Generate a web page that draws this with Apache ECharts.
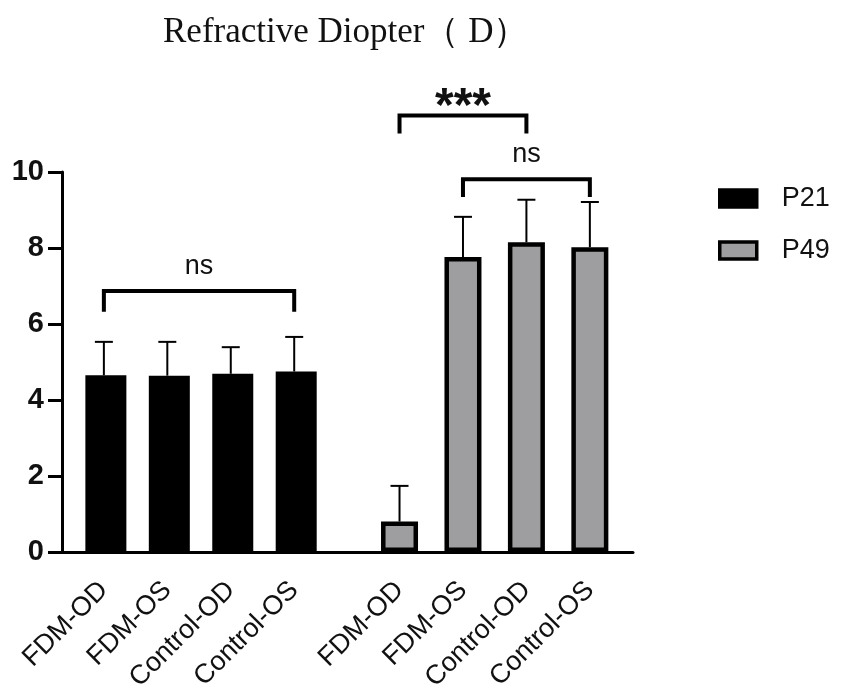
<!DOCTYPE html>
<html>
<head>
<meta charset="utf-8">
<script src="https://cdn.jsdelivr.net/npm/echarts@6/dist/echarts.min.js"></script>
<style>
  html, body { margin: 0; padding: 0; background: #fff; }
  #chart { width: 851px; height: 699px; }
</style>
</head>
<body>
<div id="chart"></div>
<script>
// groups and values
const categories = ['FDM-OD', 'FDM-OS', 'Control-OD', 'Control-OS'];
const p21Means = [4.65, 4.64, 4.69, 4.75];
const p21Errors = [0.88, 0.89, 0.70, 0.91];
const p49Means = [0.80, 7.76, 8.15, 8.02];
const p49Errors = [0.94, 1.06, 1.12, 1.19];
const yTicks = [0, 2, 4, 6, 8, 10];

// significance brackets: group, first bar, last bar, height, drop, text
const brackets = [
  ['P21', 0, 3, 6.87, 0.55, 'ns'],
  ['P49', 0, 2, 11.49, 0.48, '***'],
  ['P49', 1, 3, 9.81, 0.47, 'ns']
];

const GRAY = '#9e9ea0';
const FONT = '"Liberation Sans", Arial, sans-serif';
// where each group sits on the hidden x scale
const groupStart = { P21: 0.66, P49: 5.32 };

const xPos = (group, i) => groupStart[group] + i;
const p21X = categories.map((c, i) => xPos('P21', i));
const p49X = categories.map((c, i) => xPos('P49', i));
const allX = p21X.concat(p49X);

const errorData = p21X.map((x, i) => [x, p21Means[i], p21Errors[i]])
  .concat(p49X.map((x, i) => [x, p49Means[i], p49Errors[i]]));

const bracketData = brackets.map(b => [xPos(b[0], b[1]), xPos(b[0], b[2]), b[3], b[4], b[5]]);

function renderError(params, api) {
  const x = api.value(0), m = api.value(1), e = api.value(2);
  const base = api.coord([x, m]);
  const top = api.coord([x, m + e]);
  const half = 9;
  return {
    type: 'group',
    children: [
      { type: 'line', shape: { x1: base[0], y1: base[1], x2: top[0], y2: top[1] },
        style: { stroke: '#000', lineWidth: 2 } },
      { type: 'line', shape: { x1: top[0] - half, y1: top[1], x2: top[0] + half, y2: top[1] },
        style: { stroke: '#000', lineWidth: 2 } }
    ]
  };
}

function renderBracket(params, api) {
  const x1 = api.value(0), x2 = api.value(1), y = api.value(2), d = api.value(3);
  const label = bracketData[params.dataIndex][4];
  const a = api.coord([x1, y - d]);
  const b = api.coord([x1, y]);
  const c = api.coord([x2, y]);
  const e = api.coord([x2, y - d]);
  const star = label === '***';
  const text = star
    ? { type: 'text', x: (b[0] + c[0]) / 2, y: b[1] - 8,
        style: { text: label, fill: '#111', align: 'center', verticalAlign: 'middle',
          font: 'bold 48px ' + FONT } }
    : { type: 'text', x: (b[0] + c[0]) / 2, y: b[1] - 11,
        style: { text: label, fill: '#111', align: 'center', verticalAlign: 'bottom',
          font: '27px ' + FONT } };
  return {
    type: 'group',
    children: [
      { type: 'polyline', shape: { points: [a, b, c, e] },
        style: { stroke: '#000', lineWidth: 4, fill: null } },
      text
    ]
  };
}

const chart = echarts.init(document.getElementById('chart'));
chart.setOption({
  animation: false,
  backgroundColor: '#fff',
  title: {
    text: 'Refractive Diopter（ D）',
    left: 163,
    top: 15,
    padding: 0,
    textStyle: { fontFamily: '"Liberation Serif", "Times New Roman", serif', fontSize: 35,
      fontWeight: 'normal', color: '#111' }
  },
  legend: {
    orient: 'vertical',
    left: 718,
    top: 185,
    padding: 0,
    itemWidth: 37,
    itemHeight: 17,
    itemGap: 25,
    icon: 'rect',
    textStyle: { fontFamily: FONT, fontSize: 27, color: '#111', padding: [0, 0, 0, 20] },
    data: [
      { name: 'P21', itemStyle: { color: '#000', borderColor: '#000', borderWidth: 3.5 } },
      { name: 'P49', itemStyle: { color: GRAY, borderColor: '#000', borderWidth: 3.5 } }
    ]
  },
  grid: { left: 62, right: 218, top: 172, bottom: 147 },
  xAxis: {
    type: 'value',
    min: 0,
    max: 9,
    splitLine: { show: false },
    axisTick: { show: false },
    axisLine: { show: true, lineStyle: { color: '#000', width: 3 } },
    axisLabel: {
      customValues: allX,
      rotate: 45,
      margin: 34,
      fontFamily: FONT,
      fontSize: 27,
      color: '#111',
      formatter: v => {
        const i = allX.findIndex(x => Math.abs(x - v) < 1e-6);
        return i < 0 ? '' : categories[i % categories.length];
      }
    }
  },
  yAxis: {
    type: 'value',
    min: 0,
    max: 10,
    interval: 2,
    splitLine: { show: false },
    axisLine: { show: true, lineStyle: { color: '#000', width: 3 } },
    axisTick: { show: true, length: 14, lineStyle: { color: '#000', width: 3 } },
    axisLabel: { fontFamily: FONT, fontSize: 29, fontWeight: 'bold', color: '#111', margin: 18,
      formatter: v => yTicks.includes(v) ? String(v) : '' }
  },
  series: [
    {
      name: 'P21',
      type: 'bar',
      barWidth: 41,
      barGap: '-100%',
      itemStyle: { color: '#000' },
      data: p21X.map((x, i) => [x, p21Means[i]])
    },
    {
      name: 'P49',
      type: 'bar',
      barWidth: 37,
      barGap: '-100%',
      itemStyle: { color: GRAY, borderColor: '#000', borderWidth: 4.5 },
      data: p49X.map((x, i) => [x, p49Means[i]])
    },
    {
      type: 'custom',
      renderItem: renderError,
      clip: false,
      z: 3,
      data: errorData
    },
    {
      type: 'custom',
      renderItem: renderBracket,
      clip: false,
      z: 4,
      data: bracketData.map(b => [b[0], b[1], b[2], b[3]])
    }
  ]
});
</script>
</body>
</html>
